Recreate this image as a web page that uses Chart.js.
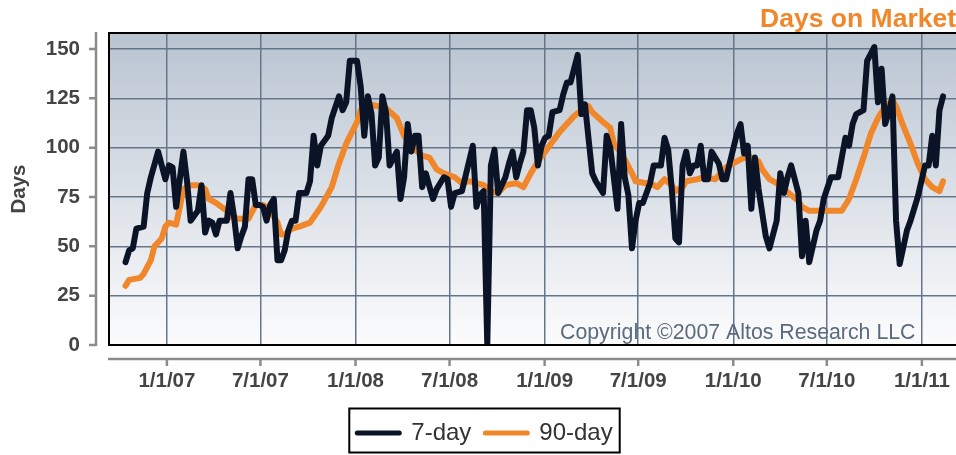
<!DOCTYPE html>
<html>
<head>
<meta charset="utf-8">
<script src="https://cdn.jsdelivr.net/npm/chart.js@4.4.1/dist/chart.umd.min.js"></script>
<style>
  html, body { margin: 0; padding: 0; background: #ffffff; }
  #wrap { width: 956px; height: 455px; }
</style>
</head>
<body>
<div id="wrap"><canvas id="chart" width="956" height="455"></canvas></div>
<script>
// Weekly "days on market" readings; x is the week number counted from FIRST_WEEK.
const FIRST_WEEK = '2006-10-13';
const AXIS_START = '2006-09-11';
const AXIS_END = '2011-03-08';
const TICK_DATES = ['2007-01-01', '2007-07-01', '2008-01-01', '2008-07-01', '2009-01-01',
                    '2009-07-01', '2010-01-01', '2010-07-01', '2011-01-01'];
const Y_TICKS = [0, 25, 50, 75, 100, 125, 150];
const Y_MAX = 158.1;

// 7-day average
const weeks7 = [0, 1, 2, 3, 5, 6, 7, 9, 11, 12, 13, 14, 16, 17, 18, 20, 21, 22, 23, 24, 25, 26, 28, 29, 30,
  31, 32, 33, 34, 35, 36, 37, 38, 39, 40, 41, 42, 43, 44, 45, 46, 47, 48, 50, 51, 52, 53, 54, 56, 57, 59,
  60, 61, 62, 64, 65, 66, 67, 68, 69, 70, 71, 72, 73, 75, 76, 77, 78, 79, 80, 81, 82, 83, 85, 86, 88, 89,
  90, 91, 93, 96, 97, 98, 99, 100, 101, 102, 103, 105, 106, 107, 108, 109, 110, 111, 112, 113, 114, 115,
  116, 117, 118, 120, 121, 122, 123, 125, 126, 127, 129, 130, 132, 133, 134, 136, 137, 138, 139, 140, 141,
  142, 143, 145, 146, 148, 149, 150, 151, 152, 153, 154, 155, 156, 157, 158, 159, 160, 161, 162, 164, 165,
  166, 167, 169, 170, 171, 172, 173, 174, 175, 177, 178, 179, 180, 181, 182, 183, 184, 185, 186, 187, 188,
  189, 191, 192, 193, 195, 197, 199, 200, 201, 202, 204, 205, 207, 208, 209, 210, 211, 212, 213, 214, 216,
  217, 219, 221, 222, 223, 224, 225, 226];
const dom7 = [42, 48, 49, 59, 60, 77, 85, 98, 84, 91, 90, 70, 98, 83, 63, 68, 81, 57, 63, 62, 56, 63, 63, 77, 65,
  49, 55, 60, 84, 84, 71, 71, 70, 63, 71, 74, 43, 43, 48, 58, 63, 63, 77, 77, 83, 106, 91, 101, 106, 115, 126,
  119, 123, 144, 144, 131, 106, 126, 117, 91, 95, 126, 118, 91, 98, 74, 85, 112, 98, 106, 106, 80, 87, 74, 79, 85, 84,
  70, 77, 78, 101, 70, 76, 78, 0, 91, 99, 77, 85, 92, 98, 85, 92, 98, 119, 119, 110, 91, 101,
  105, 106, 118, 119, 127, 133, 133, 147, 117, 122, 87, 83, 77, 106, 100, 69, 112, 85, 76, 49, 63,
  72, 72, 82, 91, 91, 105, 99, 79, 54, 52, 91, 98, 87, 91, 91, 101, 84, 84, 98, 92, 84,
  84, 92, 107, 112, 97, 101, 69, 95, 79, 55, 49, 56, 63, 87, 77, 85, 91, 84, 77, 45, 63,
  42, 58, 63, 74, 85, 85, 105, 101, 112, 117, 119, 144, 151, 123, 140, 112, 118, 126, 63, 41, 58,
  63, 75, 91, 91, 106, 91, 119, 126];

// 90-day average
const weeks90 = [0, 1, 4, 5, 7, 8, 10, 11, 12, 14, 15, 16, 18, 20, 22, 23, 25, 28, 29, 31, 34, 36, 38, 40, 42,
  43, 44, 46, 48, 51, 54, 57, 59, 61, 64, 65, 67, 70, 72, 75, 77, 80, 82, 84, 86, 88, 91, 93, 95, 97, 99,
  101, 103, 105, 108, 110, 112, 114, 116, 118, 120, 122, 124, 126, 128, 129, 132, 134, 135, 137, 138, 140,
  141, 144, 146, 147, 149, 151, 152, 154, 155, 158, 160, 163, 165, 166, 169, 171, 173, 175, 176, 178, 180,
  182, 184, 186, 187, 189, 192, 194, 196, 198, 200, 202, 204, 206, 208, 210, 212, 213, 215, 217, 219, 221,
  223, 225, 226];
const dom90 = [30, 33, 34, 36, 43, 50, 54, 60, 62, 61, 70, 79, 81, 81, 79, 74, 72, 68, 65, 64, 64, 71, 71, 68, 62,
  56, 56, 59, 60, 62, 70, 80, 92, 102, 113, 119, 122, 121, 120, 115, 106, 99, 96, 95, 89, 87, 85, 82, 83, 82, 81,
  78, 77, 81, 82, 80, 87, 93, 98, 103, 108, 112, 116, 119, 121, 118, 113, 110, 102, 97, 94, 87,
  83, 82, 81, 80, 84, 81, 78, 80, 83, 84, 85, 84, 88, 90, 93, 95, 95, 93, 89, 84, 82,
  79, 76, 73, 70, 68, 68, 68, 68, 68, 74, 84, 95, 107, 115, 121, 124, 121, 111, 102, 92, 84,
  80, 78, 83];

const DAY = 86400000;
const toTime = (iso) => Date.parse(iso + 'T00:00:00Z');
const weekTime = (w) => toTime(FIRST_WEEK) + w * 7 * DAY;
const points = (weeks, vals) => weeks.map((w, i) => ({ x: weekTime(w), y: vals[i] }));

const FONT = "'Liberation Sans', Arial, Helvetica, sans-serif";
const NAVY = '#0b1426';
const ORANGE = '#f0872a';
const AXIS_GREY = '#8c8c8c';

function fmtDate(t) {
  const d = new Date(t);
  return (d.getUTCMonth() + 1) + '/' + d.getUTCDate() + '/' + String(d.getUTCFullYear()).slice(2);
}

// Keep the plot edge exactly where the axis boxes put it (no label overhang padding)
function noOverhang(s) {
  s.paddingTop = 0;
  s.paddingBottom = 0;
  s.paddingLeft = 0;
  s.paddingRight = 0;
}

// Shaded plot background
const plotBackground = {
  id: 'plotBackground',
  beforeDraw(chart) {
    const { ctx, chartArea: a } = chart;
    const g = ctx.createLinearGradient(0, a.top, 0, a.bottom);
    g.addColorStop(0, '#b9c4d1');
    g.addColorStop(1, '#fcfcfd');
    ctx.save();
    ctx.fillStyle = g;
    ctx.fillRect(a.left, a.top, a.right - a.left, a.bottom - a.top);
    ctx.restore();
  }
};

// Copyright notice inside the plot
const copyrightNote = {
  id: 'copyrightNote',
  beforeDatasetsDraw(chart) {
    const { ctx } = chart;
    ctx.save();
    ctx.font = '21.3px ' + FONT;
    ctx.fillStyle = '#5b6b7e';
    ctx.textAlign = 'left';
    ctx.textBaseline = 'alphabetic';
    ctx.fillText('Copyright \u00A92007 Altos Research LLC', 560, 339);
    ctx.restore();
  }
};

// Black frame round the plot plus the detached grey axis rails with their tick marks
const frameAndRails = {
  id: 'frameAndRails',
  afterDatasetsDraw(chart) {
    const { ctx, chartArea: a } = chart;
    ctx.save();
    ctx.strokeStyle = '#000000';
    ctx.lineWidth = 2;
    ctx.beginPath();
    ctx.moveTo(a.right, a.top);
    ctx.lineTo(a.left, a.top);
    ctx.lineTo(a.left, a.bottom);
    ctx.lineTo(a.right, a.bottom);
    ctx.stroke();
    ctx.restore();
  },
  afterDraw(chart) {
    const { ctx, chartArea: a, scales } = chart;
    const yRail = a.left - 13;
    const xRail = a.bottom + 14;
    ctx.save();
    ctx.strokeStyle = AXIS_GREY;
    ctx.lineWidth = 2.5;
    ctx.beginPath();
    ctx.moveTo(yRail, a.top - 1);
    ctx.lineTo(yRail, a.bottom + 1);
    ctx.moveTo(a.left - 1, xRail);
    ctx.lineTo(a.right, xRail);
    scales.y.ticks.forEach(t => {
      const py = scales.y.getPixelForValue(t.value);
      ctx.moveTo(yRail - 7, py);
      ctx.lineTo(yRail, py);
    });
    scales.x.ticks.forEach(t => {
      const px = scales.x.getPixelForValue(t.value);
      ctx.moveTo(px, xRail);
      ctx.lineTo(px, xRail + 7);
    });
    ctx.stroke();
    ctx.restore();
  }
};

// Outline round the legend entries
const legendFrame = {
  id: 'legendFrame',
  afterDraw(chart) {
    const lg = chart.legend;
    if (!lg || !lg.legendHitBoxes || !lg.legendHitBoxes.length) return;
    const boxes = lg.legendHitBoxes;
    const left = Math.min(...boxes.map(b => b.left)) - 8;
    const right = Math.max(...boxes.map(b => b.left + b.width)) + 7;
    const { ctx } = chart;
    ctx.save();
    ctx.strokeStyle = '#000000';
    ctx.lineWidth = 2;
    ctx.strokeRect(left, lg.top + 1.5, right - left, lg.bottom - lg.top - 4);
    ctx.restore();
  }
};

new Chart(document.getElementById('chart'), {
  type: 'line',
  data: {
    datasets: [
      {
        label: '7-day',
        data: points(weeks7, dom7),
        borderColor: NAVY,
        backgroundColor: NAVY,
        borderWidth: 6,
        borderJoinStyle: 'round',
        borderCapStyle: 'round',
        pointRadius: 0,
        tension: 0
      },
      {
        label: '90-day',
        data: points(weeks90, dom90),
        borderColor: ORANGE,
        backgroundColor: ORANGE,
        borderWidth: 6,
        borderJoinStyle: 'round',
        borderCapStyle: 'round',
        pointRadius: 0,
        tension: 0
      }
    ]
  },
  options: {
    responsive: false,
    animation: false,
    events: [],
    layout: { padding: { left: 14, right: 0, top: 0, bottom: 0 } },
    scales: {
      x: {
        type: 'linear',
        min: toTime(AXIS_START),
        max: toTime(AXIS_END),
        afterBuildTicks: (s) => { s.ticks = TICK_DATES.map(d => ({ value: toTime(d) })); },
        afterFit: (s) => { s.height = 62; noOverhang(s); },
        grid: { color: '#66768a', lineWidth: 1.5, drawTicks: false },
        border: { display: false },
        ticks: {
          autoSkip: false,
          maxRotation: 0,
          padding: 24,
          color: '#444444',
          font: { family: FONT, size: 20.5, weight: 'bold' },
          callback: (v) => fmtDate(v)
        }
      },
      y: {
        min: 0,
        max: Y_MAX,
        afterBuildTicks: (s) => { s.ticks = Y_TICKS.map(v => ({ value: v })); },
        afterFit: (s) => { s.width = 95; noOverhang(s); },
        grid: { color: '#66768a', lineWidth: 1.5, drawTicks: false },
        border: { display: false },
        ticks: {
          padding: 29,
          color: '#444444',
          font: { family: FONT, size: 20.5, weight: 'bold' },
          callback: (v) => String(v)
        },
        title: {
          display: true,
          text: 'Days',
          color: '#444444',
          font: { family: FONT, size: 20.5, weight: 'bold' },
          padding: { top: -7, bottom: 0 }
        }
      }
    },
    plugins: {
      title: {
        display: true,
        text: 'Days on Market',
        align: 'end',
        color: ORANGE,
        font: { family: FONT, size: 26.5, weight: 'bold', lineHeight: 1 },
        padding: { top: 6.5, bottom: 0 }
      },
      legend: {
        position: 'bottom',
        labels: {
          usePointStyle: true,
          pointStyle: 'line',
          pointStyleWidth: 42,
          boxHeight: 20,
          padding: 14,
          color: '#333333',
          font: { family: FONT, size: 24 },
          generateLabels: (chart) => chart.data.datasets.map((ds, i) => ({
            text: ds.label,
            fillStyle: ds.borderColor,
            strokeStyle: ds.borderColor,
            lineWidth: 5,
            lineCap: 'round',
            pointStyle: 'line',
            hidden: false,
            datasetIndex: i,
            fontColor: '#333333'
          }))
        }
      },
      tooltip: { enabled: false }
    }
  },
  plugins: [plotBackground, copyrightNote, frameAndRails, legendFrame]
});
</script>
</body>
</html>
